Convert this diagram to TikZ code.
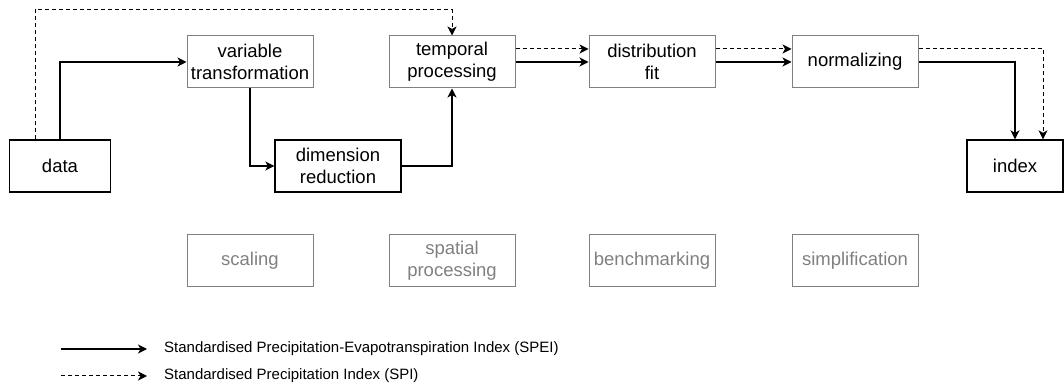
\documentclass[tikz,border=0pt]{standalone}
\usepackage{fontspec}
\setmainfont{Liberation Sans}
\usepackage{tikz}
\usetikzlibrary{arrows,arrows.meta,calc,positioning}

\begin{document}
\begin{tikzpicture}[%
x=1pt, y=1pt,
>={Stealth[length=9pt,width=9pt,inset=2.5pt]},
node distance=104pt and 190pt,
on grid,
auto,
block/.style={rectangle, draw=black, line width=1.3pt, minimum width=126pt, minimum height=52pt, inner sep=0pt, align=center, font=\fontsize{18.5}{22}\selectfont},
soft/.style={block, draw=black!50, line width=1pt},
idle/.style={soft, text=black!50},
spei/.style={->, line width=1.3pt},
spi/.style={->, line width=1pt, dash pattern=on 4pt off 3pt},
legend/.style={anchor=west, inner sep=3pt, font=\fontsize{15}{18}\selectfont}
]
\useasboundingbox (0,0) rectangle (1064,385);

\node[block, minimum width=101pt] (data) at (60,219) {data};
\node[soft] (vt) [above right=104pt and 190pt of data] {variable\\transformation};
\node[block] (dr) [right=278pt of data] {dimension\\reduction};
\node[soft] (tp) [right=202pt of vt] {temporal\\processing};
\node[soft] (df) [right=200pt of tp] {distribution\\fit};
\node[soft] (nz) [right=203pt of df] {normalizing};
\node[block, minimum width=96pt] (ix) [below right=104pt and 160pt of nz] {index};

% not used by either index
\node[idle] (sc) [below=199pt of vt] {scaling};
\node[idle] (sp) [below=199pt of tp] {spatial\\processing};
\node[idle] (bm) [below=199pt of df] {benchmarking};
\node[idle] (sm) [below=199pt of nz] {simplification};

\coordinate[above=26pt of tp.north] (spitop);

% solid: SPEI
\draw[spei] (data.north) |- (vt.west);
\draw[spei] (vt.south) |- (dr.west);
\draw[spei] (dr.east) -| (tp.south);
\draw[spei] (tp.east) -- (df.west);
\draw[spei] (df.east) -- (nz.west);
\draw[spei] (nz.east) -| (ix.north);

% dashed: SPI
\draw[spi] ([xshift=-25pt]data.north) |- (spitop) -- (tp.north);
\draw[spi] ([yshift=13pt]tp.east) -- ([yshift=13pt]df.west);
\draw[spi] ([yshift=13pt]df.east) -- ([yshift=13pt]nz.west);
\draw[spi] ([yshift=13pt]nz.east) -| ([xshift=28pt]ix.north);

% legend
\coordinate (speistart) at (61,36);
\coordinate (spistart) at (61,9);
\node[legend] (speilabel) at (161,36) {Standardised Precipitation-Evapotranspiration Index (SPEI)};
\node[legend] (spilabel) at (161,9) {Standardised Precipitation Index (SPI)};
\draw[spei, shorten >=14pt] (speistart) -- (speilabel.west);
\draw[spi, shorten >=14pt] (spistart) -- (spilabel.west);
\end{tikzpicture}
\end{document}
